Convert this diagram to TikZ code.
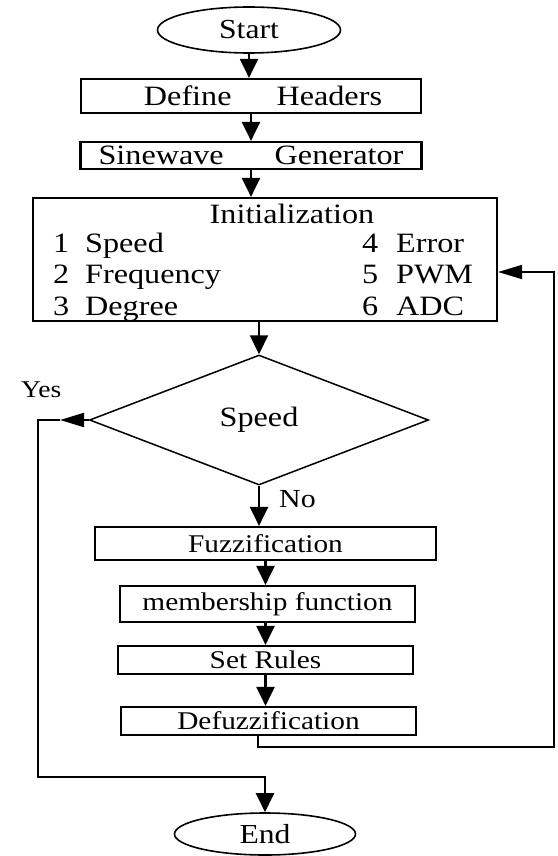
\documentclass[tikz,border=0pt]{standalone}
\usepackage{fontspec}
\setmainfont{Liberation Serif}[FakeStretch=1.15]
\usetikzlibrary{shapes.geometric,arrows.meta,positioning}

\begin{document}
\begin{tikzpicture}[x=1pt,y=-1pt,on grid,
  term/.style={ellipse,draw,line width=1.6pt,minimum width=183pt,minimum height=46pt,inner sep=0pt,font=\fontsize{27.5}{30}\selectfont},
  proc/.style={rectangle,draw,line width=2.2pt,inner sep=0pt,font=\fontsize{28}{32}\selectfont},
  sub/.style={rectangle,draw,line width=2.2pt,minimum width=295pt,minimum height=28pt,inner sep=0pt,font=\fontsize{25.5}{29}\selectfont},
  decision/.style={diamond,draw,line width=1.5pt,minimum width=339pt,minimum height=130pt,inner sep=0pt,font=\fontsize{28}{32}\selectfont},
  item/.style={anchor=base west,inner sep=0pt,font=\fontsize{28}{32}\selectfont},
  varrow/.style={line width=2.2pt,-{Triangle[length=19pt,width=18pt]}},
  harrow/.style={line width=2pt,-{Triangle[length=24pt,width=14pt]}}]
\useasboundingbox (0,0) rectangle (557,856);

\node[term] (start) at (249,30) {Start};
\node[proc,minimum width=340pt,minimum height=34pt] (define) [below=66pt of start,xshift=2pt] {\hspace*{24pt}Define\hspace{45pt}Headers};
\node[proc,minimum width=341pt,minimum height=27pt] (sine) [below=59.5pt of define] {Sinewave\hspace{51pt}Generator};
\node[proc,minimum width=464pt,minimum height=123pt] (init) [below=104pt of sine,xshift=14pt] {};
\node[item,anchor=base] (inittitle) at (292,223) {Initialization};
\node[item] (row1) at (53,252) {\makebox[32pt][l]{1}Speed};
\node[item] (row2) at (53,283) {\makebox[32pt][l]{2}Frequency};
\node[item] (row3) at (53,315) {\makebox[32pt][l]{3}Degree};
\node[item] (row4) at (362,252) {\makebox[34pt][l]{4}Error};
\node[item] (row5) at (362,283) {\makebox[34pt][l]{5}PWM};
\node[item] (row6) at (362,315) {\makebox[34pt][l]{6}ADC};
\node[decision] (dec) [below=160.5pt of init,xshift=-6pt] {Speed};
\node[sub,minimum width=341pt,minimum height=33pt] (fuzz) [below=123.5pt of dec,xshift=6.5pt] {Fuzzification};
\node[sub,minimum height=36pt] (memb) [below=60.5pt of fuzz,xshift=2pt] {membership function};
\node[sub] (rules) [below=56pt of memb,xshift=-2pt] {Set Rules};
\node[sub] (defuzz) [below=61pt of rules,xshift=3pt] {Defuzzification};
\node[term,minimum width=181pt,minimum height=42pt] (end) [below=113pt of defuzz,xshift=-3.5pt] {End};
\node[item,font=\fontsize{24}{28}\selectfont] (yes) at (21,397) {Yes};
\node[item,font=\fontsize{26}{30}\selectfont] (no) at (279,507) {No};

\coordinate (loopcorner) at (554,747);
\coordinate (yestip) at (60,420);
\coordinate (yescorner) at (38,777);

\draw[varrow] (start.south) -- (start.south |- define.north);
\draw[varrow] (define.south) -- (define.south |- sine.north);
\draw[varrow] (sine.south) -- (sine.south |- init.north);
\draw[varrow] (dec.north |- init.south) -- (dec.north);
\draw[varrow] (dec.south) -- (dec.south |- fuzz.north);
\draw[varrow] (fuzz.south) -- (fuzz.south |- memb.north);
\draw[varrow] (rules.north |- memb.south) -- (rules.north);
\draw[varrow] (rules.south) -- (rules.south |- defuzz.north);
\draw[harrow] ([xshift=-10.5pt]defuzz.south) |- (loopcorner) |- ([yshift=-12.5pt]init.east);
\draw[harrow] (dec.west) -- (yestip);
\draw[varrow] (yestip) -| (yescorner) -| (end.north);
\end{tikzpicture}
\end{document}
